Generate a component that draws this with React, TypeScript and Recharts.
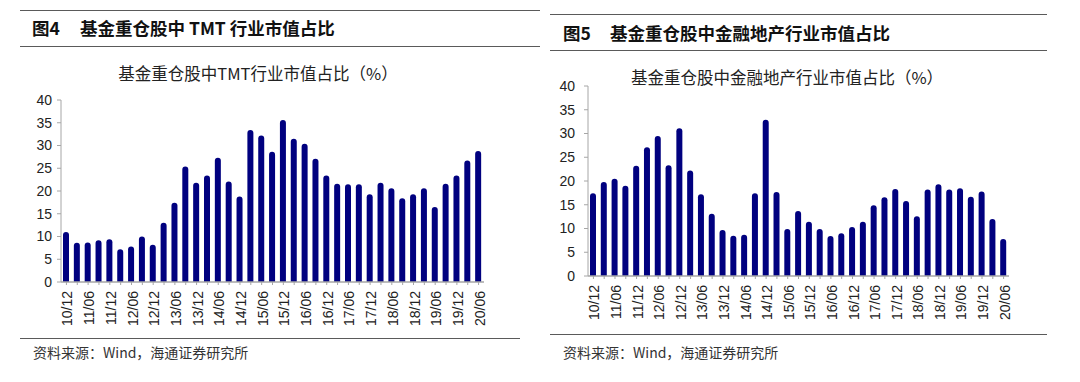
import React from 'react';
import { BarChart, Bar, XAxis, YAxis } from 'recharts';

// quarterly, 2010Q4 .. 2020Q2
const quarters = [
  '10/12', '11/03', '11/06', '11/09', '11/12', '12/03', '12/06', '12/09', '12/12',
  '13/03', '13/06', '13/09', '13/12', '14/03', '14/06', '14/09', '14/12',
  '15/03', '15/06', '15/09', '15/12', '16/03', '16/06', '16/09', '16/12',
  '17/03', '17/06', '17/09', '17/12', '18/03', '18/06', '18/09', '18/12',
  '19/03', '19/06', '19/09', '19/12', '20/03', '20/06',
];

const tmtShare = [
  11.0, 8.6, 8.7, 9.2, 9.4, 7.2, 7.8, 10.0, 8.2,
  13.0, 17.4, 25.4, 21.8, 23.4, 27.3, 22.1, 18.8,
  33.4, 32.2, 28.6, 35.6, 31.5, 30.4, 27.1, 23.4,
  21.6, 21.5, 21.5, 19.3, 21.8, 20.6, 18.4, 19.3,
  20.6, 16.5, 21.6, 23.4, 26.7, 28.8,
];

const financeShare = [
  17.4, 19.8, 20.5, 19.0, 23.2, 27.1, 29.5, 23.3, 31.1,
  22.2, 17.2, 13.1, 9.7, 8.5, 8.7, 17.4, 32.9,
  17.7, 9.9, 13.7, 11.4, 9.9, 8.4, 9.0, 10.3,
  11.4, 14.9, 16.6, 18.3, 15.8, 12.6, 18.2, 19.3,
  18.2, 18.5, 16.7, 17.8, 12.0, 7.8,
];

const yTicks = [0, 5, 10, 15, 20, 25, 30, 35, 40];
const labeled = new Set(quarters.filter((_, i) => i % 2 === 0));

const NAVY = '#00007f';
const AXIS = '#a6a6a6';
const CJK = '"Noto Sans CJK SC", "Liberation Sans", sans-serif';
const NUM = '"Liberation Sans", Arial, sans-serif';

const tmtData = quarters.map((q, i) => ({ q, v: tmtShare[i] }));
const finData = quarters.map((q, i) => ({ q, v: financeShare[i] }));

function QuarterTick(props: any) {
  const { x, y, payload } = props;
  if (!labeled.has(payload.value)) return null;
  return (
    <text
      transform={`translate(${x + 1},${y + 4}) rotate(-90)`}
      textAnchor="end"
      dy="0.36em"
      fontSize={14}
      fontFamily={NUM}
      fill="#222"
    >
      {payload.value}
    </text>
  );
}

function Panel({ data, yTickMargin, margin, width }: any) {
  return (
    <BarChart width={width} height={260} data={data} margin={margin}>
      <XAxis
        dataKey="q"
        interval={0}
        height={60}
        tick={<QuarterTick />}
        tickSize={3}
        axisLine={{ stroke: AXIS, strokeWidth: 1.5 }}
        tickLine={{ stroke: AXIS }}
      />
      <YAxis
        width={41}
        domain={[0, 40]}
        ticks={yTicks}
        interval={0}
        tickSize={4}
        tickMargin={yTickMargin}
        axisLine={{ stroke: AXIS }}
        tickLine={{ stroke: AXIS }}
        tick={{ fontSize: 14, fontFamily: NUM, fill: '#222' }}
      />
      <Bar dataKey="v" fill={NAVY} barSize={6} isAnimationActive={false} radius={[3, 3, 0, 0]} />
    </BarChart>
  );
}

const rule = (left: number, top: number, width: number) => (
  <div style={{ position: 'absolute', left, top, width, height: 0, borderTop: '1.5px solid #5a5a5a' }} />
);

const head = { position: 'absolute' as const, fontFamily: CJK, fontSize: 17.5, fontWeight: 700, color: '#111', lineHeight: '20px' };
const title = { position: 'absolute' as const, width: 500, textAlign: 'center' as const, fontFamily: CJK, fontSize: 16.5, color: '#222', lineHeight: '20px' };
const source = { position: 'absolute' as const, fontFamily: CJK, fontSize: 14, color: '#333', lineHeight: '20px' };

export default function App() {
  return (
    <div style={{ position: 'relative', width: 1080, height: 382, background: '#fff', overflow: 'hidden' }}>
      <style>{'body{margin:0}'}</style>

      {/* left panel */}
      {rule(20, 10, 520)}
      <div style={{ ...head, left: 32, top: 18 }}>图4</div>
      <div style={{ ...head, left: 80, top: 18 }}>基金重仓股中 TMT 行业市值占比</div>
      {rule(20, 46, 520)}
      <div style={{ ...title, left: 8, top: 63 }}>基金重仓股中TMT行业市值占比（%）</div>
      <div style={{ position: 'absolute', left: 0, top: 90 }}>
        <Panel data={tmtData} width={500} yTickMargin={5} margin={{ top: 10, right: 16, bottom: 8, left: 20 }} />
      </div>
      {rule(20, 338, 500)}
      <div style={{ ...source, left: 33, top: 342 }}>资料来源：Wind，海通证券研究所</div>

      {/* right panel */}
      {rule(550, 14, 497)}
      <div style={{ ...head, left: 563, top: 23 }}>图5</div>
      <div style={{ ...head, left: 610, top: 23 }}>基金重仓股中金融地产行业市值占比</div>
      {rule(550, 50, 497)}
      <div style={{ ...title, left: 537, top: 67 }}>基金重仓股中金融地产行业市值占比（%）</div>
      <div style={{ position: 'absolute', left: 540, top: 76 }}>
        <Panel data={finData} width={490} yTickMargin={9} margin={{ top: 10, right: 21, bottom: 0, left: 7 }} />
      </div>
      {rule(550, 334, 497)}
      <div style={{ ...source, left: 563, top: 342 }}>资料来源：Wind，海通证券研究所</div>
    </div>
  );
}
